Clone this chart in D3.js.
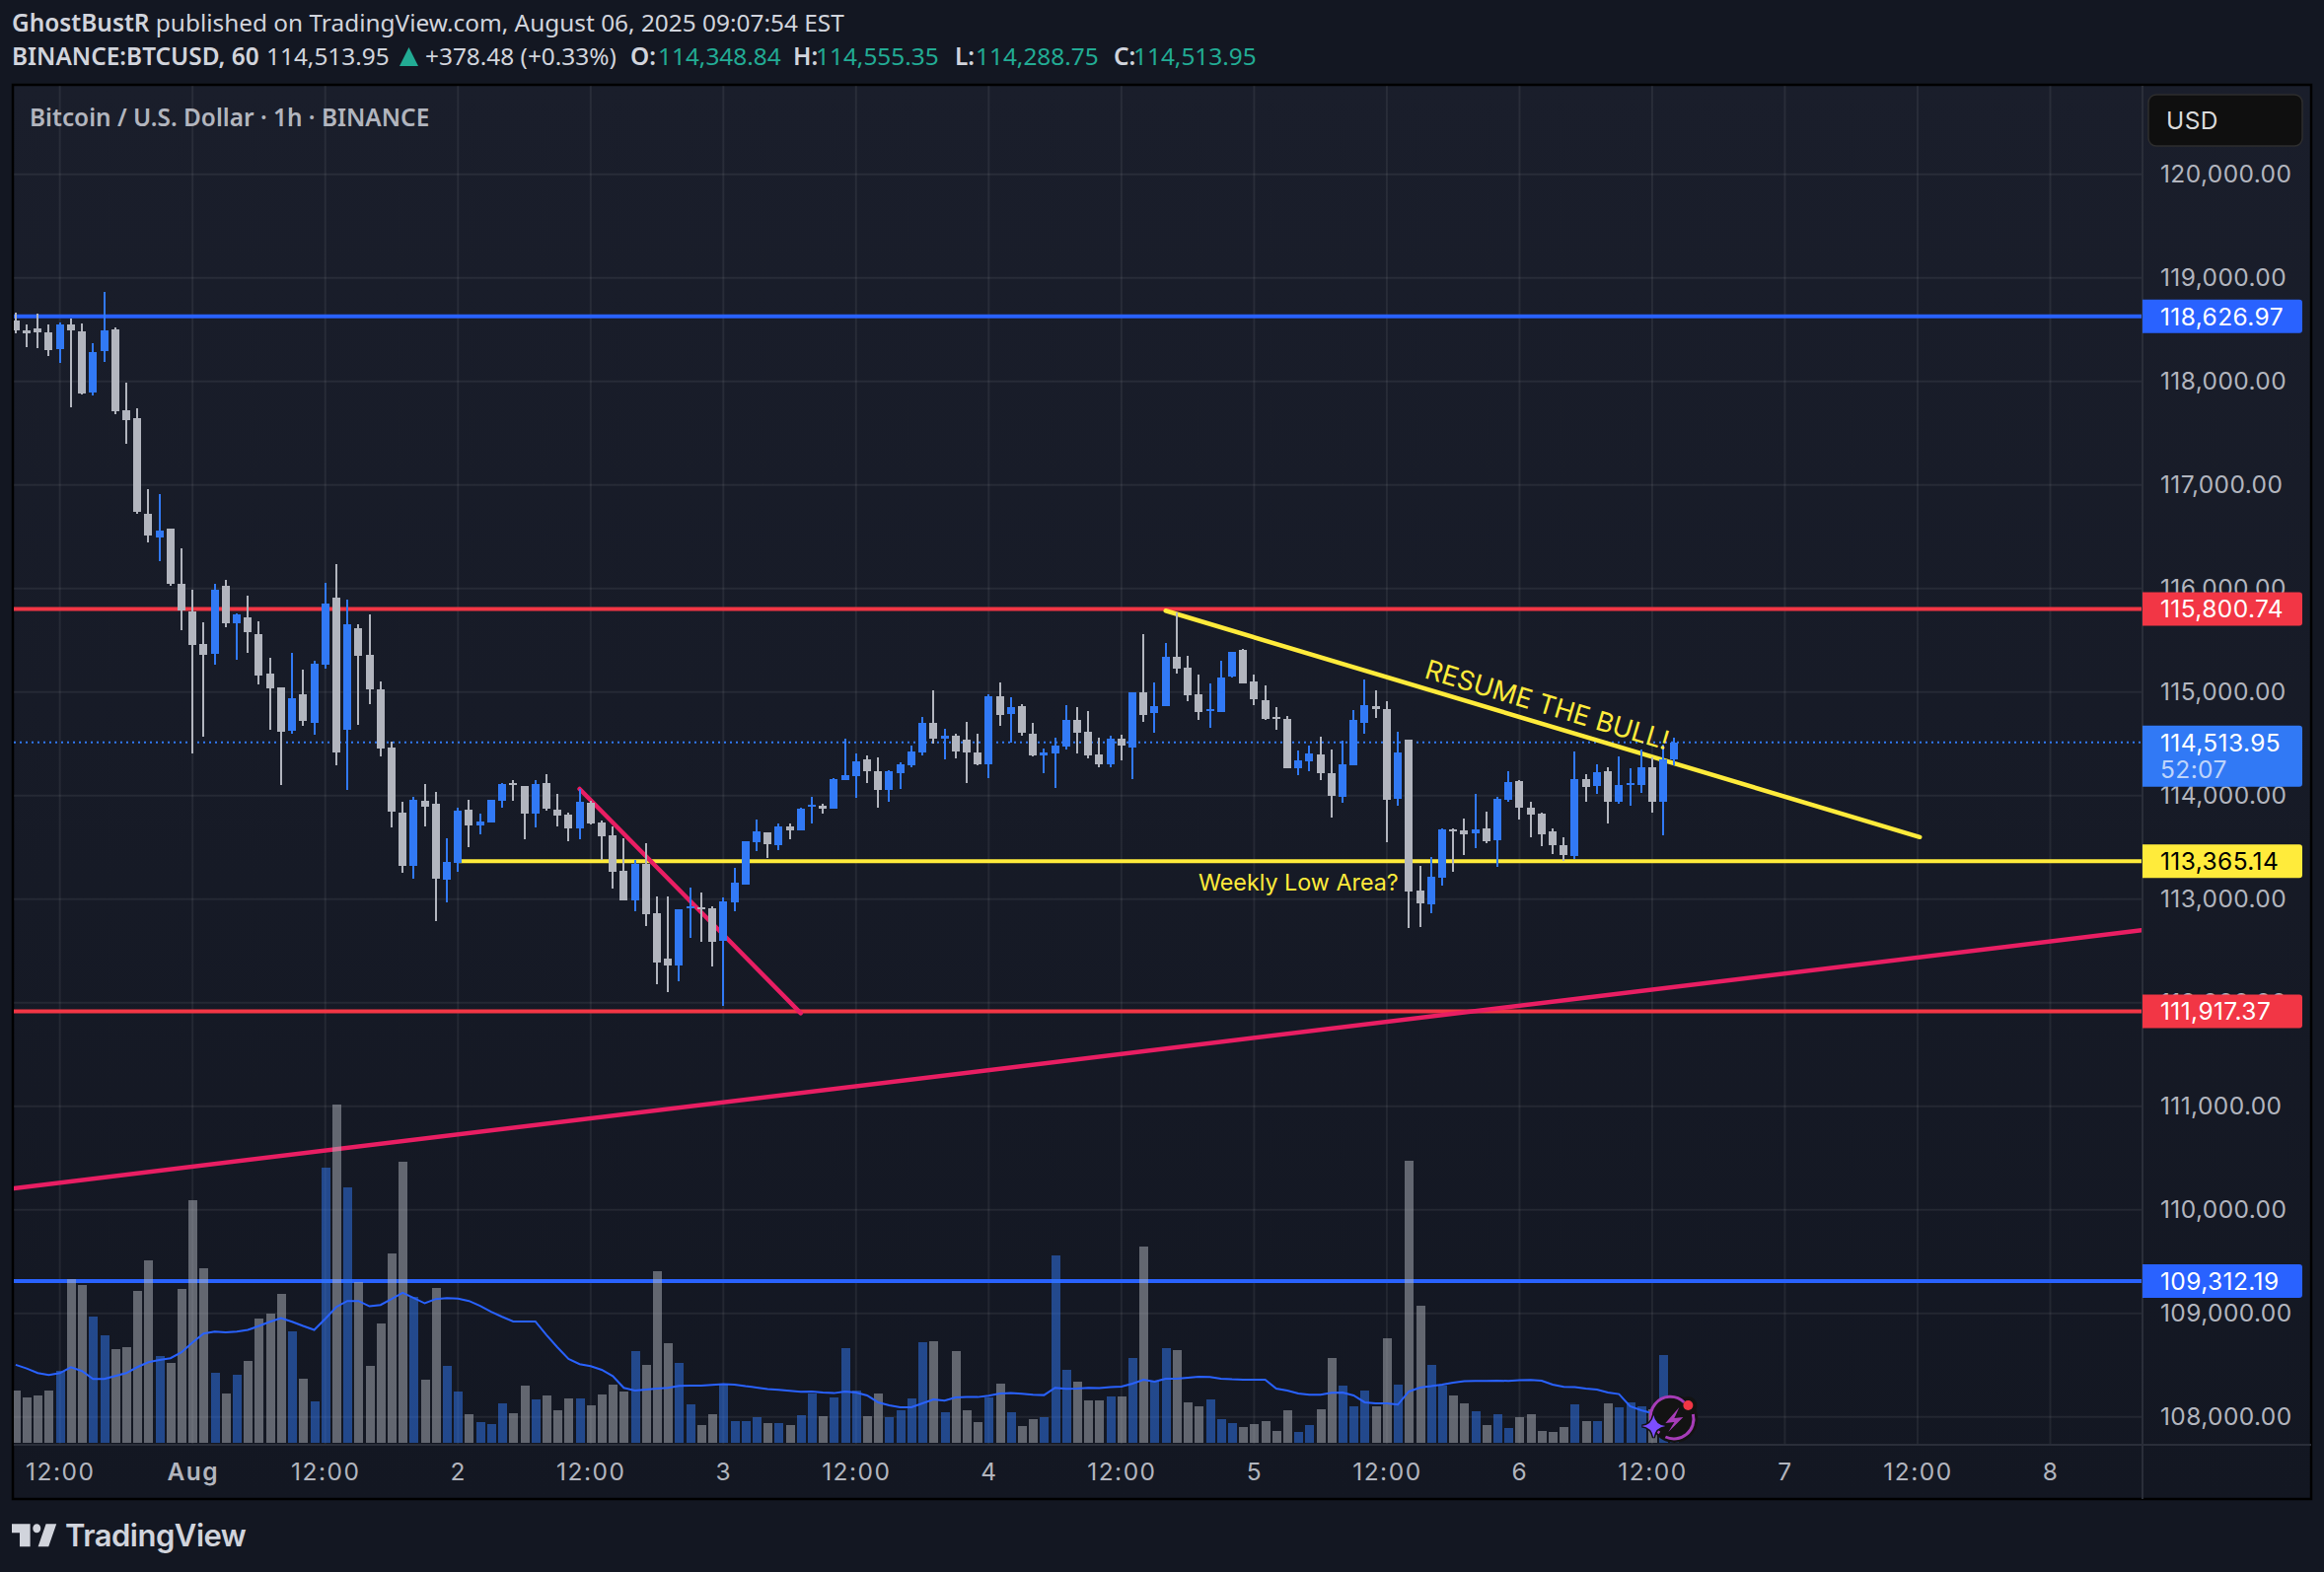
<!DOCTYPE html>
<html>
<head>
<meta charset="utf-8">
<title>BTCUSD 1h</title>
<script src="https://cdn.jsdelivr.net/npm/d3@7"></script>
<style>
  html, body { margin: 0; padding: 0; background: #131722; }
  svg { display: block; }
  text { font-family: Inter, "Noto Sans", sans-serif; }
  .head { font-family: "Noto Sans", sans-serif; font-size: 24.4px; }
  .axis path, .axis line { display: none; }
  .axis text { fill: #b2b5be; font-size: 24.5px; font-family: Inter, sans-serif; letter-spacing: 0.4px; }
  .time text { letter-spacing: 1.5px; }
  .tag { font-size: 24.5px; letter-spacing: 0.4px; }
</style>
</head>
<body>
<div id="chart"></div>
<script>
var svgWidth = 2356;
var svgHeight = 1594;

// candles, one hour each, first bar is 4 hours before the first 12:00 tick
var opens = [118588,118492,118511,118473,118311,118549,118483,117892,118292,118502,
  117721,117645,116721,116492,116578,116045,115778,115464,115368,116026,
  115664,115721,115559,115178,115045,114626,114978,114702,115264,115911,
  114635,115616,115359,115026,114464,113835,113321,113949,113921,113187,
  113349,113864,113711,113740,113949,114121,114092,113826,114121,113864,
  113816,113683,113930,113740,113616,113273,112987,113340,112864,112426,
  112359,112911,112921,112911,112597,112968,113140,113549,113645,113521,
  113702,113664,113892,113902,113873,114149,114187,114349,114235,114054,
  114216,114292,114416,114702,114549,114578,114540,114416,114302,114959,
  114787,114864,114597,114387,114407,114473,114730,114617,114398,114302,
  114550,114464,114998,114797,114864,115340,115236,114978,114817,114807,
  115150,115407,115102,114921,114759,114740,114264,114331,114398,114217,
  113988,114293,114702,114864,114836,113969,114540,113083,112950,113207,
  113674,113664,113636,113683,113569,113959,114140,113883,113826,113655,
  113521,113417,114159,114093,114236,113940,114102,114102,114274,113940,114348.84];
var closes = [118492,118464,118473,118302,118549,118492,117883,118283,118492,117711,
  117626,116740,116511,116559,116045,115787,115454,115359,115987,115664,
  115749,115578,115159,115035,114616,114940,114721,115273,115854,114416,
  115654,115349,115026,114454,113845,113321,113959,113892,113197,113359,
  113854,113711,113749,113959,114111,114102,113826,114111,113873,113806,
  113683,113940,113730,113606,113264,112987,113340,112854,112388,112359,
  112902,112930,112902,112588,112978,113159,113559,113654,113530,113702,
  113664,113873,113911,113873,114159,114197,114330,114235,114054,114235,
  114302,114426,114702,114549,114578,114426,114416,114302,114959,114778,
  114854,114606,114387,114416,114483,114730,114606,114388,114302,114550,
  114483,114998,114778,114864,115340,115226,114969,114807,114836,115140,
  115388,115083,114931,114740,114740,114264,114340,114407,114217,113997,
  114302,114731,114874,114836,113959,114417,113074,112959,113217,113674,
  113664,113626,113674,113559,113969,114131,113883,113817,113626,113521,
  113426,114159,114083,114226,113940,114102,114121,114274,113940,114350,114513.95];
var highs = [118664,118549,118654,118549,118568,118607,118559,118368,118864,118521,
  117987,117740,116959,116911,116578,116387,115987,115673,116045,116083,
  115759,115930,115683,115330,115045,115378,115216,115302,116054,116235,
  115892,115654,115749,115102,114521,113940,113988,114111,114035,113587,
  113883,113959,113826,113959,114121,114149,114092,114149,114207,114016,
  113835,114064,113949,113759,113702,113587,113378,113540,113026,113026,
  112902,113111,113064,112930,113016,113302,113559,113768,113645,113730,
  113730,113883,113987,113921,114168,114549,114407,114387,114368,114245,
  114321,114483,114759,115016,114645,114597,114711,114597,114978,115092,
  114949,114883,114702,114454,114559,114873,114854,114817,114559,114578,
  114588,114998,115559,115093,115474,115769,115350,115169,115083,115302,
  115388,115417,115169,115064,114855,114769,114436,114483,114569,114445,
  114531,114826,115121,115017,114912,114617,114540,113321,113407,113683,
  113683,113778,114017,113845,113988,114236,114150,113940,113836,113683,
  113598,114426,114207,114302,114274,114378,114264,114445,114369,114493,114555.35];
var lows = [118464,118330,118321,118245,118178,117749,117873,117864,118187,117683,
  117397,116721,116445,116264,116026,115597,114406,114568,115264,115626,
  115311,115378,115073,114635,114099,114597,114673,114587,115226,114292,
  114054,114683,114883,114378,113692,113254,113197,113702,112787,112968,
  113264,113502,113625,113740,113883,113949,113578,113692,113854,113702,
  113559,113578,113721,113378,113102,112987,112883,112740,112178,112102,
  112207,112626,112588,112349,111968,112883,113140,113464,113397,113473,
  113578,113664,113730,113826,113873,114149,113978,114121,113883,113940,
  114064,114273,114387,114502,114349,114359,114121,114292,114168,114673,
  114511,114578,114378,114216,114073,114445,114407,114359,114274,114274,
  114340,114159,114712,114607,114864,115178,114912,114731,114655,114807,
  115140,115083,114874,114731,114636,114264,114198,114236,114150,113788,
  113931,114293,114598,114750,113550,113902,112721,112731,112864,113131,
  113264,113426,113493,113540,113312,113940,113769,113598,113512,113436,
  113369,113388,113940,114017,113731,113921,113902,114026,113835,113616,114288.75];

var volumes = [158,137,143,158,218,497,479,383,326,284,
  290,461,554,263,242,467,737,530,212,149,
  206,248,377,392,452,338,194,125,836,1028,
  776,488,233,362,575,854,443,191,470,233,
  155,86,62,56,119,89,173,131,143,98,
  134,134,113,147,177,156,279,237,522,303,
  243,117,54,87,177,66,66,78,60,60,
  54,84,150,81,138,288,159,81,150,78,
  99,135,306,309,93,279,99,63,138,180,
  93,51,72,78,570,222,186,129,129,141,
  141,258,597,189,288,282,123,111,132,72,
  60,48,57,66,36,99,33,54,102,258,
  174,111,159,111,318,177,858,417,237,174,
  144,120,96,54,87,45,78,87,36,33,
  48,117,66,66,120,108,123,111,102,267,6];
// volume moving average, runs under the icon at the end
var volumeMA = [237,226,212,206,212,230,218,194,194,203,
  212,230,245,252,257,275,305,332,338,336,
  338,343,355,368,379,368,355,343,377,413,
  431,431,415,419,437,456,440,424,437,440,
  438,431,416,398,383,369,369,369,328,290,
  255,239,233,222,203,167,159,162,165,167,
  173,174,174,176,178,177,172,168,163,161,
  158,155,156,153,151,156,153,144,123,114,
  108,108,120,132,128,138,139,139,143,150,
  151,149,146,145,167,164,165,167,166,169,
  171,180,192,186,195,195,198,201,200,195,
  193,192,192,192,165,159,150,146,146,152,
  153,144,123,120,120,116,156,168,172,177,
  183,187,188,188,189,188,190,191,189,177,
  170,169,165,162,153,148,111,99,90];

// axis ticks
var priceTicks = [108000,109000,110000,111000,112000,113000,114000,115000,116000,117000,118000,119000,120000];
var timeTicks = [0,12,24,36,48,60,72,84,96,108,120,132,144,156,168,180];
var timeLabels = ["12:00","Aug","12:00","2","12:00","3","12:00","4","12:00","5","12:00","6","12:00","7","12:00","8"];

// horizontal levels drawn on the chart
var levelPrices = [118626.97,115800.74,111917.37,109312.19];
var levelColors = ["#2962ff","#f23645","#f23645","#2962ff"];
var weeklyLowPrice = 113365.14;
var weeklyLowStart = 36;
var lastPrice = 114513.95;

// trend lines, start and end as hour / price
var lowerResistHours = [100,168.2];
var lowerResistPrices = [115785,113599];
var steepHours = [47,67];
var steepPrices = [114064,111899];
var riseHours = [-4.17,188.25];
var risePrices = [110207,112699];

var candleBlue = "#3179f5";
var candleGray = "#b2b5be";
var yellow = "#ffeb3b";
var pink = "#e91e63";

var paneLeft = 14;
var paneRight = 2171;
var paneTop = 87;
var paneBottom = 1465;

var svg = d3.select("#chart")
  .append("svg")
  .attr("width", svgWidth)
  .attr("height", svgHeight);

var defs = svg.append("defs");
var grad = defs.append("linearGradient")
  .attr("id", "paneBg")
  .attr("x1", 0).attr("y1", 0).attr("x2", 0).attr("y2", 1);
grad.append("stop").attr("offset", "0%").attr("stop-color", "#1a1e2b");
grad.append("stop").attr("offset", "100%").attr("stop-color", "#131722");
defs.append("clipPath").attr("id", "pane")
  .append("rect")
  .attr("x", paneLeft).attr("y", paneTop)
  .attr("width", paneRight - paneLeft).attr("height", paneBottom - paneTop);

svg.append("rect").attr("width", svgWidth).attr("height", svgHeight).attr("fill", "#131722");

// chart frame
svg.append("rect")
  .attr("x", 13).attr("y", 86)
  .attr("width", 2330).attr("height", 1434)
  .attr("fill", "url(#paneBg)")
  .attr("stroke", "#000")
  .attr("stroke-width", 2.5);

// scales
var x = d3.scaleLinear().domain([0, 180]).range([60.7, 2078.5]);
var y = d3.scaleLinear().domain([108000, 120000]).range([1436.7, 176.7]);
var volY = d3.scaleLinear().domain([0, 1028]).range([1463, 1120]);

var pane = svg.append("g").attr("clip-path", "url(#pane)");

// grid
pane.append("g").selectAll("line").data(priceTicks).enter().append("line")
  .attr("x1", paneLeft).attr("x2", paneRight)
  .attr("y1", d => y(d)).attr("y2", d => y(d))
  .attr("stroke", "#ffffff").attr("stroke-opacity", 0.065).attr("stroke-width", 2);
pane.append("g").selectAll("line").data(timeTicks).enter().append("line")
  .attr("x1", d => x(d)).attr("x2", d => x(d))
  .attr("y1", paneTop).attr("y2", paneBottom)
  .attr("stroke", "#ffffff").attr("stroke-opacity", 0.065).attr("stroke-width", 2);

// drawings sit under the volume and the candles
pane.append("g").selectAll("line").data(levelPrices).enter().append("line")
  .attr("x1", paneLeft).attr("x2", paneRight)
  .attr("y1", d => y(d)).attr("y2", d => y(d))
  .attr("stroke", (d, i) => levelColors[i])
  .attr("stroke-width", 4);

pane.append("line")
  .attr("x1", x(weeklyLowStart)).attr("x2", paneRight)
  .attr("y1", y(weeklyLowPrice)).attr("y2", y(weeklyLowPrice))
  .attr("stroke", yellow).attr("stroke-width", 4);

pane.append("line")
  .attr("x1", paneLeft).attr("x2", paneRight)
  .attr("y1", y(lastPrice)).attr("y2", y(lastPrice))
  .attr("stroke", candleBlue).attr("stroke-width", 2)
  .attr("stroke-dasharray", "2 4");

function trendLine(hours, prices, color) {
  pane.append("line")
    .attr("x1", x(hours[0])).attr("y1", y(prices[0]))
    .attr("x2", x(hours[1])).attr("y2", y(prices[1]))
    .attr("stroke", color).attr("stroke-width", 4.5)
    .attr("stroke-linecap", "round");
}
trendLine(riseHours, risePrices, pink);
trendLine(steepHours, steepPrices, pink);
trendLine(lowerResistHours, lowerResistPrices, yellow);

var barHours = opens.map((d, i) => i - 4);

// volume
pane.append("g").selectAll("rect").data(volumes).enter().append("rect")
  .attr("x", (d, i) => Math.round(x(barHours[i])) - 4.5)
  .attr("width", 9)
  .attr("y", d => volY(d))
  .attr("height", d => volY(0) - volY(d))
  .attr("fill", (d, i) => closes[i] >= opens[i] ? candleBlue : candleGray)
  .attr("fill-opacity", 0.5)
  .attr("shape-rendering", "crispEdges");

var maLine = d3.line()
  .x((d, i) => x(barHours[i]))
  .y(d => volY(d));
pane.append("path")
  .datum(volumeMA)
  .attr("d", maLine)
  .attr("fill", "none")
  .attr("stroke", "#2962ff")
  .attr("stroke-width", 2);

// candles
var candles = pane.append("g").selectAll("g").data(opens).enter().append("g")
  .attr("fill", (d, i) => closes[i] >= opens[i] ? candleBlue : candleGray)
  .attr("shape-rendering", "crispEdges");
candles.append("rect")
  .attr("x", (d, i) => Math.round(x(barHours[i])) - 1)
  .attr("width", 2)
  .attr("y", (d, i) => y(highs[i]))
  .attr("height", (d, i) => y(lows[i]) - y(highs[i]));
candles.append("rect")
  .attr("x", (d, i) => Math.round(x(barHours[i])) - 4)
  .attr("width", 8)
  .attr("y", (d, i) => y(Math.max(opens[i], closes[i])))
  .attr("height", (d, i) => Math.max(2, Math.abs(y(opens[i]) - y(closes[i]))));

// labels on the chart
svg.append("text")
  .attr("x", 1215).attr("y", 903)
  .attr("fill", yellow)
  .style("font-size", "23.3px")
  .text("Weekly Low Area?");
svg.append("text")
  .attr("transform", "translate(1443,687) rotate(16.7)")
  .attr("fill", yellow)
  .style("font-size", "27px")
  .text("RESUME THE BULL!");

// icon at the last bar
var icon = svg.append("g").attr("transform", `translate(${x(146)}, 1439)`);
icon.append("circle").attr("r", 24).attr("fill", "#131313");
icon.append("circle").attr("cx", 14).attr("cy", -14).attr("r", 9).attr("fill", "#131313");
icon.append("path")
  .attr("d", "M-15,14 A20,20 0 1 1 10,-17 M19,-5 A20,20 0 0 1 -9,18")
  .attr("fill", "none").attr("stroke", "#a63cb8").attr("stroke-width", 3);
icon.append("path")
  .attr("d", "M5,-12 L-9,4 L0,3 L-6,13 L9,-2 L0,-1 Z")
  .attr("fill", "#a63cb8");
icon.append("circle").attr("cx", 14).attr("cy", -14).attr("r", 5).attr("fill", "#f23645");
icon.append("path")
  .attr("d", "M-21,-4 Q-19,6 -9,7 Q-19,8 -21,19 Q-23,8 -33,7 Q-23,6 -21,-4 Z")
  .attr("fill", "#7c4dff").attr("stroke", "#131313").attr("stroke-width", 3)
  .attr("paint-order", "stroke");

// axis lines
svg.append("rect").attr("x", paneRight).attr("y", paneTop).attr("width", 2).attr("height", 1433).attr("fill", "#2a2e39");
svg.append("rect").attr("x", paneLeft).attr("y", paneBottom - 1).attr("width", 2329).attr("height", 2).attr("fill", "#2a2e39");

// price axis
var priceAxis = d3.axisRight(y)
  .tickValues(priceTicks)
  .tickFormat(d3.format(",.2f"))
  .tickSize(0)
  .tickPadding(0);
var priceG = svg.append("g")
  .attr("class", "axis")
  .attr("transform", "translate(2190,0)")
  .call(priceAxis);
priceG.selectAll("text").attr("x", 0);

// time axis
var timeAxis = d3.axisBottom(x)
  .tickValues(timeTicks)
  .tickFormat((d, i) => timeLabels[i])
  .tickSize(0)
  .tickPadding(0);
var timeG = svg.append("g")
  .attr("class", "axis time")
  .attr("transform", "translate(0,1484)")
  .call(timeAxis);
timeG.selectAll("text").style("font-weight", (d, i) => timeLabels[i] === "Aug" ? 600 : 400);

// price tags on the axis
function priceTag(value, fill, textColor) {
  svg.append("path")
    .attr("d", `M2172,${y(value) - 17} H2331 a3,3 0 0 1 3,3 V${y(value) + 14} a3,3 0 0 1 -3,3 H2172 Z`)
    .attr("fill", fill);
  svg.append("text")
    .attr("class", "tag")
    .attr("x", 2190).attr("y", y(value))
    .attr("dy", "0.36em")
    .attr("fill", textColor)
    .text(d3.format(",.2f")(value));
}
levelPrices.forEach((d, i) => priceTag(d, levelColors[i], "#ffffff"));
priceTag(weeklyLowPrice, yellow, "#000000");

// last price tag has the countdown under it
var lastTagY = y(lastPrice);
svg.append("path")
  .attr("d", `M2172,${lastTagY - 17} H2331 a3,3 0 0 1 3,3 V${lastTagY + 42} a3,3 0 0 1 -3,3 H2172 Z`)
  .attr("fill", candleBlue);
svg.append("text")
  .attr("class", "tag")
  .attr("x", 2190).attr("y", lastTagY).attr("dy", "0.36em")
  .attr("fill", "#fff")
  .text(d3.format(",.2f")(lastPrice));
svg.append("text")
  .attr("class", "tag")
  .attr("x", 2190).attr("y", lastTagY + 27).attr("dy", "0.36em")
  .attr("fill", "#fff").attr("fill-opacity", 0.7)
  .text("52:07");

// currency box
svg.append("rect")
  .attr("x", 2178).attr("y", 96)
  .attr("width", 156).attr("height", 52)
  .attr("rx", 8)
  .attr("fill", "#0f0f0f").attr("stroke", "#2e2e2e").attr("stroke-width", 1.5);
svg.append("text")
  .attr("class", "tag")
  .attr("x", 2196).attr("y", 122).attr("dy", "0.36em")
  .attr("fill", "#dbdbdb")
  .text("USD");

// header
var head1 = svg.append("text").attr("class", "head").attr("x", 12).attr("y", 32).attr("fill", "#d1d4dc");
head1.append("tspan").style("font-weight", 600).text("GhostBustR");
head1.append("tspan").text(" published on TradingView.com, August 06, 2025 09:07:54 EST");

function headText(xPos, txt, color, weight) {
  svg.append("text")
    .attr("class", "head")
    .attr("x", xPos).attr("y", 66)
    .attr("fill", color)
    .style("font-weight", weight)
    .text(txt);
}
var teal = "#22ab94";
headText(12, "BINANCE:BTCUSD, 60", "#d1d4dc", 600);
headText(270, "114,513.95", "#d1d4dc", 400);
svg.append("path").attr("d", "M414.5,48 L424,67 L405,67 Z").attr("fill", teal);
headText(431, "+378.48 (+0.33%)", "#d1d4dc", 400);
headText(639, "O:", "#d1d4dc", 600);
headText(667, "114,348.84", teal, 400);
headText(804, "H:", "#d1d4dc", 600);
headText(827, "114,555.35", teal, 400);
headText(968, "L:", "#d1d4dc", 600);
headText(989, "114,288.75", teal, 400);
headText(1129, "C:", "#d1d4dc", 600);
headText(1149, "114,513.95", teal, 400);

svg.append("text")
  .attr("class", "head")
  .attr("x", 30).attr("y", 128)
  .attr("fill", "#b2b5be")
  .style("font-weight", 600)
  .text("Bitcoin / U.S. Dollar · 1h · BINANCE");

// TradingView mark
svg.append("path")
  .attr("transform", "translate(12,1536) scale(1.33,1.53)")
  .attr("d", "M14 6H0v6h6v9h8V6zm14 15H20l6-15h8l-6 15zm-9-9a3 3 0 100-6 3 3 0 000 6z")
  .attr("fill", "#d1d4dc");
svg.append("text")
  .attr("x", 66).attr("y", 1568)
  .attr("fill", "#d1d4dc")
  .style("font-size", "31px")
  .style("font-weight", 600)
  .style("letter-spacing", "-0.5px")
  .text("TradingView");
</script>
</body>
</html>
